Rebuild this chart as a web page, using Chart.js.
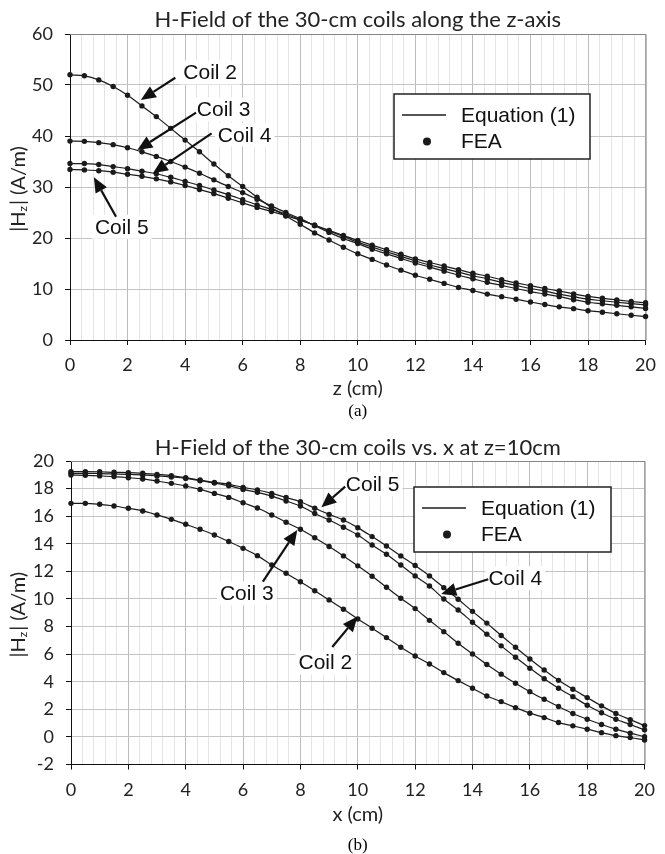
<!DOCTYPE html>
<html><head><meta charset="utf-8">
<script src="https://cdn.jsdelivr.net/npm/chart.js@4.4.0/dist/chart.umd.min.js"></script>
<style>
html,body{margin:0;padding:0;background:#fff;width:665px;height:854px;overflow:hidden;}
#wrapA{position:absolute;left:0;top:0;width:665px;height:424px;}
#wrapB{position:absolute;left:0;top:424px;width:665px;height:430px;}
canvas{display:block;}
</style></head><body>
<div id="wrapA"><canvas id="chartA" width="665" height="424"></canvas></div>
<div id="wrapB"><canvas id="chartB" width="665" height="430"></canvas></div>
<script>
// ---- Data ----
const zCm = [0,0.5,1,1.5,2,2.5,3,3.5,4,4.5,5,5.5,6,6.5,7,7.5,8,8.5,9,9.5,10,10.5,11,11.5,12,12.5,13,13.5,14,14.5,15,15.5,16,16.5,17,17.5,18,18.5,19,19.5,20];
const xCm = [0,0.5,1,1.5,2,2.5,3,3.5,4,4.5,5,5.5,6,6.5,7,7.5,8,8.5,9,9.5,10,10.5,11,11.5,12,12.5,13,13.5,14,14.5,15,15.5,16,16.5,17,17.5,18,18.5,19,19.5,20];

// (a) |Hz| along z-axis (A/m)
const axialCoil2 = [52.0,51.8,51.0,49.7,48.0,45.9,43.8,41.5,39.2,36.9,34.5,32.2,30.1,28.0,26.0,24.3,22.7,21.0,19.6,18.2,16.9,15.8,14.7,13.7,12.7,11.9,11.1,10.3,9.7,9.0,8.5,8.0,7.45,6.95,6.5,6.15,5.75,5.45,5.15,4.85,4.6];
const axialCoil3 = [39.0,38.95,38.7,38.3,37.7,36.9,36.0,35.0,33.9,32.7,31.4,30.1,28.9,27.6,26.3,25.0,23.8,22.4,21.1,19.9,18.9,17.8,16.9,16.0,15.1,14.3,13.5,12.7,12.0,11.3,10.7,10.1,9.5,9.0,8.5,7.9,7.4,7.1,6.8,6.5,6.2];
const axialCoil4 = [34.6,34.6,34.4,34.0,33.6,33.1,32.6,31.9,31.1,30.3,29.4,28.5,27.5,26.5,25.6,24.7,23.6,22.5,21.4,20.3,19.2,18.2,17.3,16.4,15.5,14.7,14.0,13.3,12.6,12.0,11.3,10.7,10.1,9.6,9.0,8.5,8.0,7.7,7.4,7.15,6.9];
const axialCoil5 = [33.45,33.35,33.2,32.9,32.5,32.1,31.6,31.0,30.3,29.5,28.7,27.8,26.9,26.0,25.2,24.4,23.5,22.5,21.5,20.5,19.5,18.6,17.7,16.8,15.9,15.2,14.5,13.8,13.1,12.5,11.8,11.2,10.65,10.1,9.6,9.05,8.55,8.2,7.85,7.55,7.3];

// (b) |Hz| vs x at z = 10 cm (A/m)
const radialCoil2 = [16.93,16.93,16.86,16.74,16.57,16.38,16.09,15.77,15.41,15.05,14.64,14.16,13.67,13.14,12.46,11.86,11.25,10.6,9.93,9.25,8.55,7.88,7.2,6.5,5.87,5.29,4.66,4.08,3.53,2.97,2.56,2.12,1.72,1.4,1.04,0.8,0.56,0.31,0.09,-0.05,-0.22];
const radialCoil3 = [18.99,18.96,18.92,18.87,18.79,18.7,18.55,18.38,18.19,17.94,17.65,17.36,16.97,16.59,16.09,15.56,15.05,14.44,13.8,13.12,12.4,11.65,10.85,10.05,9.3,8.45,7.63,6.79,6.01,5.25,4.55,3.89,3.28,2.73,2.2,1.7,1.28,0.9,0.56,0.27,0.02];
const radialCoil4 = [19.11,19.11,19.09,19.06,19.03,18.99,18.92,18.84,18.74,18.57,18.4,18.21,17.94,17.73,17.45,17.1,16.74,16.2,15.72,15.2,14.64,13.91,13.24,12.46,11.67,10.94,10.0,9.2,8.31,7.45,6.6,5.77,4.98,4.22,3.53,2.92,2.3,1.75,1.28,0.9,0.51];
const radialCoil5 = [19.23,19.23,19.22,19.18,19.16,19.11,19.03,18.94,18.79,18.62,18.45,18.31,18.09,17.9,17.65,17.35,17.05,16.57,16.13,15.72,15.17,14.52,13.84,13.12,12.42,11.67,10.82,9.98,9.1,8.25,7.35,6.5,5.65,4.85,4.1,3.45,2.85,2.25,1.7,1.25,0.82];

const xMajorTicks = [0,2,4,6,8,10,12,14,16,18,20];
const yTicksA = [0,10,20,30,40,50,60];
const yTicksB = [-2,0,2,4,6,8,10,12,14,16,18,20];
const legendLabels = ['Equation (1)','FEA'];

// Annotations in data units: label centre, arrow start, arrow tip
const notesA = [
  {text:'Coil 2', at:[4.87,52.45], from:[3.66,51.43], to:[2.46,47.06]},
  {text:'Coil 3', at:[5.34,45.2], from:[4.38,44.57], to:[2.34,37.25]},
  {text:'Coil 4', at:[6.07,40.25], from:[4.92,40.53], to:[2.88,32.69]},
  {text:'Coil 5', at:[1.8,22.2], from:[1.6,24.18], to:[0.83,31.9]}
];
const notesB = [
  {text:'Coil 5', at:[10.52,18.32], from:[9.56,18.14], to:[8.73,16.64]},
  {text:'Coil 4', at:[15.49,11.5], from:[14.55,11.43], to:[12.91,10.36]},
  {text:'Coil 3', at:[6.13,10.41], from:[6.69,11.25], to:[7.89,15.0]},
  {text:'Coil 2', at:[8.87,5.39], from:[9.11,6.52], to:[9.99,8.72]}
];

// ---- helpers ----
const INK = '#1b1b1b';
function isMajor(v){ return xMajorTicks.some(t => Math.abs(t - v) < 1e-6); }

function buildDatasets(xs, series){
  const ds = [];
  series.forEach(vals => {
    const pts = xs.map((x,i) => ({x:x, y:vals[i]}));
    ds.push({label:legendLabels[0], data:pts, borderColor:INK, borderWidth:1.2, pointRadius:0,
      cubicInterpolationMode:'monotone', fill:false, clip:false});
    ds.push({label:legendLabels[1], data:pts, showLine:false, pointRadius:2.7, pointBorderWidth:0,
      pointBackgroundColor:INK, clip:false});
  });
  return ds;
}

const frameAndNotes = {
  id:'frameAndNotes',
  beforeDatasetsDraw(chart){
    const {ctx, chartArea:a} = chart;
    ctx.save();
    ctx.strokeStyle = '#858585';
    ctx.lineWidth = 1;
    ctx.beginPath();
    ctx.moveTo(a.left, a.top + 0.5); ctx.lineTo(a.right + 0.5, a.top + 0.5);
    ctx.lineTo(a.right + 0.5, a.bottom);
    ctx.stroke();
    ctx.restore();
  },
  afterDatasetsDraw(chart, args, opts){
    const {ctx, chartArea:a, scales} = chart;
    const sx = scales.x, sy = scales.y;
    ctx.save();
    // annotations
    ctx.font = '21px "Liberation Sans", Arial, sans-serif';
    ctx.textAlign = 'center';
    ctx.textBaseline = 'middle';
    (opts.notes || []).forEach(n => {
      const tx = sx.getPixelForValue(n.at[0]), ty = sy.getPixelForValue(n.at[1]);
      const w = ctx.measureText(n.text).width;
      ctx.fillStyle = '#fff';
      ctx.fillRect(tx - w/2 - 3, ty - 12, w + 6, 24);
      ctx.fillStyle = '#111';
      ctx.fillText(n.text, tx, ty + 1);
      const x0 = sx.getPixelForValue(n.from[0]), y0 = sy.getPixelForValue(n.from[1]);
      const x1 = sx.getPixelForValue(n.to[0]), y1 = sy.getPixelForValue(n.to[1]);
      const ang = Math.atan2(y1 - y0, x1 - x0);
      const L = 15, W = 6.5;
      const bx = x1 - L*Math.cos(ang), by = y1 - L*Math.sin(ang);
      ctx.strokeStyle = '#111'; ctx.lineWidth = 2.2;
      ctx.beginPath(); ctx.moveTo(x0,y0); ctx.lineTo(bx,by); ctx.stroke();
      ctx.beginPath();
      ctx.moveTo(x1,y1);
      ctx.lineTo(bx + W*Math.sin(ang), by - W*Math.cos(ang));
      ctx.lineTo(bx - W*Math.sin(ang), by + W*Math.cos(ang));
      ctx.closePath(); ctx.fillStyle = '#111'; ctx.fill();
    });
    // legend box
    const L = opts.legend;
    const bx = a.left + L.x, by = a.top + L.y;
    ctx.fillStyle = '#fff';
    ctx.fillRect(bx, by, L.w, L.h);
    ctx.strokeStyle = '#222'; ctx.lineWidth = 1.5;
    ctx.strokeRect(bx, by, L.w, L.h);
    ctx.strokeStyle = INK; ctx.lineWidth = 1.6;
    ctx.beginPath(); ctx.moveTo(bx + 8, by + 21); ctx.lineTo(bx + 52, by + 21); ctx.stroke();
    ctx.beginPath(); ctx.arc(bx + 33, by + 47.5, 4, 0, Math.PI*2); ctx.fillStyle = INK; ctx.fill();
    ctx.fillStyle = '#111';
    ctx.textAlign = 'left';
    ctx.fillText(legendLabels[0], bx + 67, by + 22);
    ctx.fillText(legendLabels[1], bx + 67, by + 48.5);
    // y-axis title with subscript
    const cx = 18.5, cy = (a.top + a.bottom)/2 + 2;
    ctx.translate(cx, cy);
    ctx.rotate(-Math.PI/2);
    const big = '20px Lato, "Noto Sans", sans-serif';
    const small = '12px Lato, "Noto Sans", sans-serif';
    const parts = [['|H', big, 0], ['z', small, 5], ['| (A/m)', big, 0]];
    let total = 0;
    parts.forEach(p => { ctx.font = p[1]; total += ctx.measureText(p[0]).width + (p[0]==='z'?1:0); });
    let px = -total/2;
    ctx.fillStyle = '#222';
    ctx.textAlign = 'left';
    ctx.textBaseline = 'middle';
    parts.forEach(p => { ctx.font = p[1]; ctx.fillText(p[0], px, p[2]); px += ctx.measureText(p[0]).width + (p[0]==='z'?1:0); });
    ctx.restore();
  }
};

function makeChart(id, cfg){
  return new Chart(document.getElementById(id), {
    type:'line',
    data:{datasets: buildDatasets(cfg.xs, cfg.series)},
    options:{
      responsive:false, animation:false, events:[],
      layout:{padding:{left:0, right:12, top:0, bottom:cfg.padBottom}},
      plugins:{
        legend:{display:false}, tooltip:{enabled:false},
        title:{display:true, text:cfg.title, fullSize:false, color:'#222',
          font:{family:'Lato', size:22, weight:'normal', lineHeight:1.2},
          padding:{top:cfg.titleTop, bottom:cfg.titleBottom}},
        subtitle:{display:true, text:cfg.caption, position:'bottom', fullSize:false, color:'#000',
          font:{family:'"Liberation Serif", "Times New Roman", serif', size:17, weight:'normal', lineHeight:1},
          padding:{top:cfg.capTop, bottom:0}},
        frameAndNotes:{notes:cfg.notes, legend:cfg.legend}
      },
      scales:{
        x:{type:'linear', min:0, max:20,
          afterFit(s){ s.height = cfg.xAxisH; },
          ticks:{stepSize:0.4, autoSkip:false, maxRotation:0, padding:cfg.xTickPad, color:'#222',
            font:{family:'Lato', size:18},
            callback:(v) => isMajor(v) ? String(Math.round(v)) : ''},
          grid:{color:(c) => isMajor(c.tick.value) ? '#bdbdbd' : '#e4e4e4', lineWidth:1,
            tickLength:5, tickColor:(c) => isMajor(c.tick.value) ? '#111' : 'rgba(0,0,0,0)'},
          border:{color:'#111', width:1},
          title:{display:true, text:cfg.xTitle, color:'#222', font:{family:'Lato', size:20}, padding:{top:2, bottom:0}}
        },
        y:{min:cfg.yTicks[0], max:cfg.yTicks[cfg.yTicks.length-1],
          afterFit(s){ s.width = cfg.yAxisW; },
          afterBuildTicks(s){ s.ticks = cfg.yTicks.map(v => ({value:v})); },
          ticks:{padding:12, color:'#222', font:{family:'Lato', size:18}},
          grid:{color:'#c4c4c4', lineWidth:1, tickLength:5, tickColor:'#111'},
          border:{color:'#111', width:1}
        }
      }
    },
    plugins:[frameAndNotes]
  });
}

makeChart('chartA', {
  xs:zCm, series:[axialCoil2, axialCoil3, axialCoil4, axialCoil5],
  title:'H-Field of the 30-cm coils along the z-axis', caption:'(a)', xTitle:'z (cm)',
  yTicks:yTicksA, notes:notesA, legend:{x:324, y:60, w:196, h:65},
  titleTop:6.8, titleBottom:0.8, xAxisH:60.5, xTickPad:9, capTop:3, padBottom:3.5, yAxisW:70
});
makeChart('chartB', {
  xs:xCm, series:[radialCoil2, radialCoil3, radialCoil4, radialCoil5],
  title:'H-Field of the 30-cm coils vs. x at z=10cm', caption:'(b)', xTitle:'x (cm)',
  yTicks:yTicksB, notes:notesB, legend:{x:343, y:26, w:197, h:65},
  titleTop:10.6, titleBottom:0, xAxisH:62, xTickPad:10, capTop:10.5, padBottom:0, yAxisW:71
});
</script>
</body></html>
